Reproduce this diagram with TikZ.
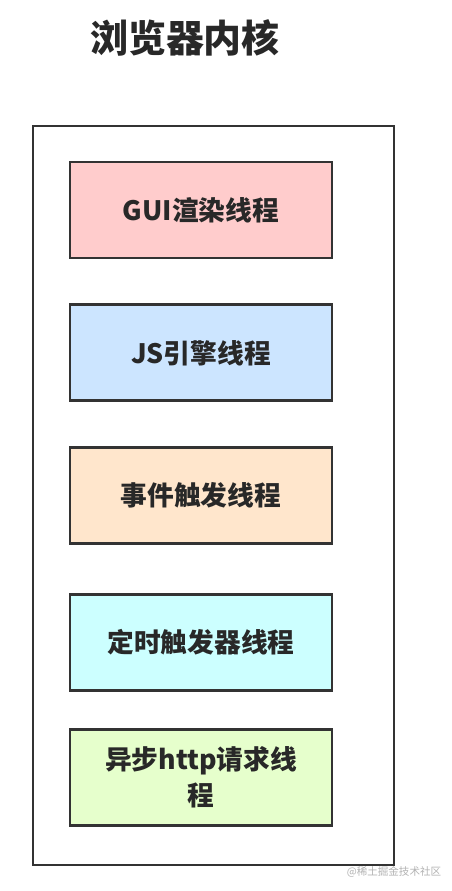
\documentclass[tikz,border=0pt]{standalone}
\usepackage{fontspec}
\setmainfont{Noto Sans CJK SC}
\usetikzlibrary{positioning}
\definecolor{figRosa}{RGB}{255,204,204}
\definecolor{figAzul}{RGB}{204,229,255}
\definecolor{figNaranja}{RGB}{255,230,204}
\definecolor{figCian}{RGB}{204,255,255}
\definecolor{figVerde}{RGB}{230,255,204}
\definecolor{figBorde}{RGB}{51,51,51}
\definecolor{figTexto}{RGB}{40,40,40}
\tikzset{
  hilo/.style={
    rectangle, draw=figBorde, line width=2pt,
    minimum height=2.4cm, minimum width=6.55cm, text width=6cm,
    align=center, font=\bfseries\fontsize{19}{25}\selectfont,
    text=figTexto, inner sep=4pt
  },
  nucleo/.style={
    rectangle, draw=figBorde, line width=2pt,
    minimum width=9.025cm, minimum height=18.475cm
  },
  titulo/.style={font=\bfseries\fontsize{27}{31}\selectfont, text=figTexto},
  marca/.style={font=\fontsize{7.5}{9}\selectfont, text=black!30}
}
\begin{document}
\begin{tikzpicture}[node distance=1.1cm]
  \useasboundingbox (0,0) rectangle (11.275,-22.275);
  \node[titulo] (tit) at (4.625,-0.95) {浏览器内核};
  \node[nucleo] (ker) at (5.3375,-12.3875) {};
  \node[hilo, fill=figRosa] (gui) at (5.025,-5.25) {GUI渲染线程};
  \node[hilo, fill=figAzul, below=of gui] (js) {JS引擎线程};
  \node[hilo, fill=figNaranja, below=of js] (evt) {事件触发线程};
  \node[hilo, fill=figCian, below=1.2cm of evt] (tim) {定时触发器线程};
  \node[hilo, fill=figVerde, below=0.9cm of tim] (http) {异步http请求线\\程};
  \node[marca] (wm) at (9.85,-21.8) {@稀土掘金技术社区};
\end{tikzpicture}
\end{document}
